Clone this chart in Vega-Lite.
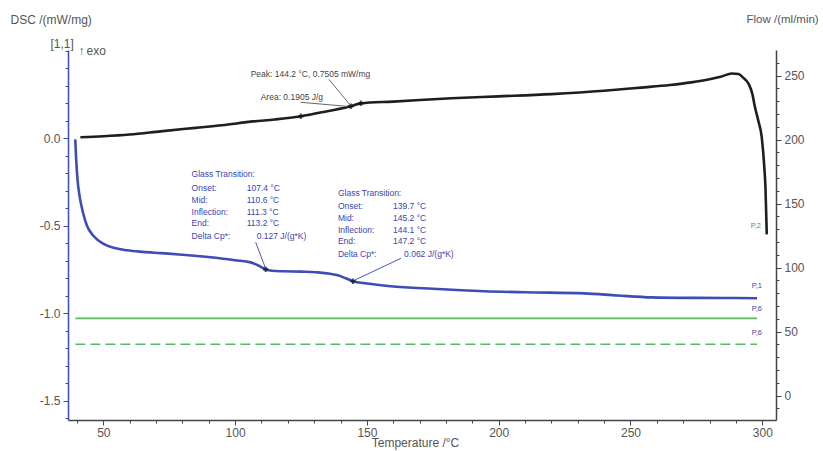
{
  "$schema": "https://vega.github.io/schema/vega-lite/v6.json",
  "width": 708,
  "height": 370,
  "autosize": {"type": "none"},
  "padding": {"left": 68, "top": 50, "right": 47, "bottom": 31},
  "background": "white",
  "config": {
    "view": {"stroke": null},
    "font": "Liberation Sans",
    "axis": {"grid": false, "labelOverlap": false, "labelFont": "Liberation Sans", "titleFont": "Liberation Sans", "labelColor": "#555", "titleColor": "#555", "labelFontSize": 12, "titleFontSize": 12, "titleFontWeight": "normal"}
  },
  "datasets": {
    "blue": [
      {"T": 39.35, "v": -0.006}, {"T": 39.7, "v": -0.12}, {"T": 40.2, "v": -0.234}, {"T": 41.0, "v": -0.33},
      {"T": 42.3, "v": -0.425}, {"T": 43.8, "v": -0.5}, {"T": 46.3, "v": -0.558}, {"T": 50.1, "v": -0.603},
      {"T": 53.9, "v": -0.626}, {"T": 59.0, "v": -0.64}, {"T": 65, "v": -0.649}, {"T": 71.7, "v": -0.656},
      {"T": 80, "v": -0.665}, {"T": 90.7, "v": -0.68}, {"T": 100, "v": -0.697}, {"T": 105.9, "v": -0.709},
      {"T": 109, "v": -0.728}, {"T": 111.6, "v": -0.749}, {"T": 114, "v": -0.757}, {"T": 118.4, "v": -0.76},
      {"T": 125, "v": -0.762}, {"T": 131.4, "v": -0.766}, {"T": 136, "v": -0.774}, {"T": 139, "v": -0.783},
      {"T": 142, "v": -0.8}, {"T": 144.7, "v": -0.817}, {"T": 150, "v": -0.83}, {"T": 159, "v": -0.845},
      {"T": 175, "v": -0.86}, {"T": 194.5, "v": -0.874}, {"T": 210, "v": -0.88}, {"T": 232.5, "v": -0.886},
      {"T": 245, "v": -0.898}, {"T": 258, "v": -0.909}, {"T": 275, "v": -0.912}, {"T": 290, "v": -0.913},
      {"T": 298, "v": -0.914}
    ],
    "black": [
      {"T": 41.3, "v": 0.006}, {"T": 50, "v": 0.012}, {"T": 60, "v": 0.022}, {"T": 71.7, "v": 0.04},
      {"T": 85, "v": 0.06}, {"T": 95, "v": 0.075}, {"T": 107, "v": 0.097}, {"T": 115, "v": 0.108},
      {"T": 124.9, "v": 0.126}, {"T": 135, "v": 0.155}, {"T": 143.9, "v": 0.183}, {"T": 147.7, "v": 0.2},
      {"T": 160, "v": 0.21}, {"T": 182, "v": 0.229}, {"T": 200, "v": 0.24}, {"T": 220, "v": 0.253},
      {"T": 240, "v": 0.272}, {"T": 254, "v": 0.29}, {"T": 265, "v": 0.305}, {"T": 273, "v": 0.32},
      {"T": 280, "v": 0.338}, {"T": 284.6, "v": 0.354}, {"T": 288.4, "v": 0.371}, {"T": 291, "v": 0.368},
      {"T": 292.5, "v": 0.35}, {"T": 294.9, "v": 0.309}, {"T": 296.3, "v": 0.25}, {"T": 297, "v": 0.194},
      {"T": 298.5, "v": 0.1}, {"T": 299.8, "v": 0.006}, {"T": 300.7, "v": -0.15}, {"T": 301.2, "v": -0.28},
      {"T": 301.7, "v": -0.549}
    ],
    "greenSolid": [{"T": 39.4, "v": -1.029}, {"T": 298, "v": -1.029}],
    "greenDashed": [{"T": 39.4, "v": -1.177}, {"T": 298, "v": -1.177}],
    "texts": [
      {"kind": "gt", "align": "l", "T": 83.5, "v": -0.206, "label": "Glass Transition:"},
      {"kind": "gt", "align": "l", "T": 83.5, "v": -0.286, "label": "Onset:"},
      {"kind": "gt", "align": "l", "T": 83.5, "v": -0.354, "label": "Mid:"},
      {"kind": "gt", "align": "l", "T": 83.5, "v": -0.423, "label": "Inflection:"},
      {"kind": "gt", "align": "l", "T": 83.5, "v": -0.486, "label": "End:"},
      {"kind": "gt", "align": "l", "T": 83.5, "v": -0.56, "label": "Delta Cp*:"},
      {"kind": "gt", "align": "l", "T": 104.4, "v": -0.286, "label": "107.4 °C"},
      {"kind": "gt", "align": "l", "T": 104.4, "v": -0.354, "label": "110.6 °C"},
      {"kind": "gt", "align": "l", "T": 104.4, "v": -0.423, "label": "111.3 °C"},
      {"kind": "gt", "align": "l", "T": 104.4, "v": -0.486, "label": "113.2 °C"},
      {"kind": "gt", "align": "l", "T": 108.2, "v": -0.56, "label": "0.127 J/(g*K)"},
      {"kind": "gt", "align": "l", "T": 139.0, "v": -0.314, "label": "Glass Transition:"},
      {"kind": "gt", "align": "l", "T": 139.0, "v": -0.389, "label": "Onset:"},
      {"kind": "gt", "align": "l", "T": 139.0, "v": -0.457, "label": "Mid:"},
      {"kind": "gt", "align": "l", "T": 139.0, "v": -0.526, "label": "Inflection:"},
      {"kind": "gt", "align": "l", "T": 139.0, "v": -0.589, "label": "End:"},
      {"kind": "gt", "align": "l", "T": 139.0, "v": -0.663, "label": "Delta Cp*:"},
      {"kind": "gt", "align": "l", "T": 159.9, "v": -0.389, "label": "139.7 °C"},
      {"kind": "gt", "align": "l", "T": 159.9, "v": -0.457, "label": "145.2 °C"},
      {"kind": "gt", "align": "l", "T": 159.9, "v": -0.526, "label": "144.1 °C"},
      {"kind": "gt", "align": "l", "T": 159.9, "v": -0.589, "label": "147.2 °C"},
      {"kind": "gt", "align": "l", "T": 164.1, "v": -0.663, "label": "0.062 J/(g*K)"},
      {"kind": "peak", "align": "l", "T": 105.9, "v": 0.366, "label": "Peak: 144.2 °C, 0.7505 mW/mg"},
      {"kind": "peak", "align": "l", "T": 109.7, "v": 0.234, "label": "Area: 0.1905 J/g"},
      {"kind": "pblue", "align": "l", "T": 296.0, "v": -0.846, "label": "P,1"},
      {"kind": "pblue", "align": "l", "T": 296.0, "v": -0.977, "label": "P,6"},
      {"kind": "pblue", "align": "l", "T": 296.0, "v": -1.114, "label": "P,6"},
      {"kind": "pgray", "align": "l", "T": 295.6, "v": -0.503, "label": "P,2"},
      {"kind": "corner", "align": "c", "T": 34.4, "v": 0.54, "label": "[1,1]"},
      {"kind": "corner", "align": "l", "T": 40.6, "v": 0.5, "label": "↑"},
      {"kind": "corner", "align": "l", "T": 43.6, "v": 0.5, "label": "exo"}
    ],
    "leaders": [
      {"kind": "blue", "T": 107.8, "v": -0.594, "T2": 111.6, "v2": -0.745},
      {"kind": "blue", "T": 162.9, "v": -0.686, "T2": 144.7, "v2": -0.815},
      {"kind": "gray", "T": 135.6, "v": 0.337, "T2": 143.9, "v2": 0.186},
      {"kind": "gray", "T": 124.9, "v": 0.206, "T2": 142.5, "v2": 0.183}
    ],
    "markers": [
      {"T": 111.6, "v": -0.749}, {"T": 144.7, "v": -0.817},
      {"T": 124.9, "v": 0.126}, {"T": 143.9, "v": 0.183}, {"T": 147.7, "v": 0.2}
    ],
    "flow": [{"T": 40, "f": 0}, {"T": 300, "f": 250}]
  },
  "layer": [
    {
      "layer": [
        {
          "data": {"name": "greenSolid"},
          "mark": {"type": "line", "color": "#5cb85c", "strokeWidth": 1.6},
          "encoding": {
            "x": {
              "field": "T", "type": "quantitative",
              "scale": {"domain": [36.6, 305.2], "nice": false, "zero": false},
              "axis": {
                "title": "Temperature /°C",
                "labelOverlap": false,
                "tickCount": 500,
                "values": [40, 50, 60, 70, 80, 90, 100, 110, 120, 130, 140, 150, 160, 170, 180, 190, 200, 210, 220, 230, 240, 250, 260, 270, 280, 290, 300],
                "labelExpr": "datum.value % 50 == 0 ? format(datum.value, 'd') : ''",
                "tickSize": {"condition": {"test": "datum.value % 50 == 0", "value": 5}, "value": 3},
                "domainColor": "#444", "tickColor": "#444", "domainWidth": 1.5,
                "labelPadding": 2,
                "titleX": 347, "titleY": 17, "titleBaseline": "top", "titleAlign": "center"
              }
            },
            "y": {
              "field": "v", "type": "quantitative",
              "scale": {"domain": [-1.61, 0.505], "nice": false, "zero": false},
              "axis": {
                "title": "DSC /(mW/mg)",
                "labelOverlap": false,
                "tickCount": 500,
                "values": [-1.6, -1.5, -1.4, -1.3, -1.2, -1.1, -1.0, -0.9, -0.8, -0.7, -0.6, -0.5, -0.4, -0.3, -0.2, -0.1, 0.0, 0.1, 0.2, 0.3, 0.4, 0.5],
                "labelExpr": "datum.value < 0.25 && abs(datum.value * 2 - round(datum.value * 2)) < 0.001 ? replace(format(datum.value, '.1f'), '−', '-') : ''",
                "tickSize": {"condition": {"test": "datum.value < 0.25 && abs(datum.value * 2 - round(datum.value * 2)) < 0.001", "value": 5}, "value": 3},
                "domainColor": "#3b4cb3", "tickColor": "#3b4cb3", "domainWidth": 1.5,
                "labelPadding": 3,
                "titleAngle": 0, "titleAlign": "left", "titleBaseline": "middle", "titleX": -58, "titleY": -31
              }
            }
          }
        },
        {
          "data": {"name": "greenDashed"},
          "mark": {"type": "line", "color": "#5cb85c", "strokeWidth": 1.6, "strokeDash": [10, 5]},
          "encoding": {"x": {"field": "T", "type": "quantitative"}, "y": {"field": "v", "type": "quantitative"}}
        },
        {
          "data": {"name": "black"},
          "mark": {"type": "line", "color": "#1e1e1e", "strokeWidth": 2.6, "interpolate": "monotone"},
          "encoding": {"x": {"field": "T", "type": "quantitative"}, "y": {"field": "v", "type": "quantitative"}}
        },
        {
          "data": {"name": "blue"},
          "mark": {"type": "line", "color": "#3d4db5", "strokeWidth": 2.6, "interpolate": "monotone"},
          "encoding": {"x": {"field": "T", "type": "quantitative"}, "y": {"field": "v", "type": "quantitative"}}
        },
        {
          "data": {"name": "leaders"},
          "transform": [{"filter": "datum.kind == 'blue'"}],
          "mark": {"type": "rule", "color": "#4a55b8", "strokeWidth": 1},
          "encoding": {"x": {"field": "T", "type": "quantitative"}, "y": {"field": "v", "type": "quantitative"}, "x2": {"field": "T2"}, "y2": {"field": "v2"}}
        },
        {
          "data": {"name": "leaders"},
          "transform": [{"filter": "datum.kind == 'gray'"}],
          "mark": {"type": "rule", "color": "#666", "strokeWidth": 1},
          "encoding": {"x": {"field": "T", "type": "quantitative"}, "y": {"field": "v", "type": "quantitative"}, "x2": {"field": "T2"}, "y2": {"field": "v2"}}
        },
        {
          "data": {"name": "markers"},
          "mark": {"type": "point", "shape": "cross", "filled": true, "color": "#111", "size": 30},
          "encoding": {"x": {"field": "T", "type": "quantitative"}, "y": {"field": "v", "type": "quantitative"}}
        },
        {
          "data": {"name": "texts"},
          "transform": [{"filter": "datum.kind == 'gt'"}],
          "mark": {"type": "text", "align": "left", "baseline": "middle", "fontSize": 8.5, "color": "#3a45b0"},
          "encoding": {"x": {"field": "T", "type": "quantitative"}, "y": {"field": "v", "type": "quantitative"}, "text": {"field": "label"}}
        },
        {
          "data": {"name": "texts"},
          "transform": [{"filter": "datum.kind == 'peak'"}],
          "mark": {"type": "text", "align": "left", "baseline": "middle", "fontSize": 8.5, "color": "#444"},
          "encoding": {"x": {"field": "T", "type": "quantitative"}, "y": {"field": "v", "type": "quantitative"}, "text": {"field": "label"}}
        },
        {
          "data": {"name": "texts"},
          "transform": [{"filter": "datum.kind == 'pblue'"}],
          "mark": {"type": "text", "align": "left", "baseline": "middle", "fontSize": 7.5, "color": "#3a45b0"},
          "encoding": {"x": {"field": "T", "type": "quantitative"}, "y": {"field": "v", "type": "quantitative"}, "text": {"field": "label"}}
        },
        {
          "data": {"name": "texts"},
          "transform": [{"filter": "datum.kind == 'pgray'"}],
          "mark": {"type": "text", "align": "left", "baseline": "middle", "fontSize": 7.5, "color": "#777"},
          "encoding": {"x": {"field": "T", "type": "quantitative"}, "y": {"field": "v", "type": "quantitative"}, "text": {"field": "label"}}
        },
        {
          "data": {"name": "texts"},
          "transform": [{"filter": "datum.kind == 'corner' && datum.align == 'c'"}],
          "mark": {"type": "text", "align": "center", "baseline": "middle", "fontSize": 12, "color": "#555"},
          "encoding": {"x": {"field": "T", "type": "quantitative"}, "y": {"field": "v", "type": "quantitative"}, "text": {"field": "label"}}
        },
        {
          "data": {"name": "texts"},
          "transform": [{"filter": "datum.kind == 'corner' && datum.align == 'l'"}],
          "mark": {"type": "text", "align": "left", "baseline": "middle", "fontSize": 12, "color": "#555"},
          "encoding": {"x": {"field": "T", "type": "quantitative"}, "y": {"field": "v", "type": "quantitative"}, "text": {"field": "label"}}
        }
      ]
    },
    {
      "data": {"name": "flow"},
      "mark": {"type": "point", "opacity": 0},
      "encoding": {
        "x": {"field": "T", "type": "quantitative"},
        "y": {
          "field": "f", "type": "quantitative",
          "scale": {"domain": [-19, 270], "nice": false, "zero": false},
          "axis": {
            "orient": "right",
            "title": "Flow /(ml/min)",
            "labelOverlap": false,
            "tickCount": 500,
            "titleFontSize": 11.5,
            "values": [-10, 0, 10, 20, 30, 40, 50, 60, 70, 80, 90, 100, 110, 120, 130, 140, 150, 160, 170, 180, 190, 200, 210, 220, 230, 240, 250, 260],
            "labelExpr": "datum.value % 50 == 0 ? format(datum.value, 'd') : ''",
            "tickSize": {"condition": {"test": "datum.value % 50 == 0", "value": 5}, "value": 3},
            "domainColor": "#444", "tickColor": "#444", "domainWidth": 1.5,
            "labelPadding": 3,
            "titleAngle": 0, "titleAlign": "left", "titleBaseline": "middle", "titleX": -30, "titleY": -31
          }
        }
      }
    }
  ],
  "resolve": {"scale": {"y": "independent"}}
}
